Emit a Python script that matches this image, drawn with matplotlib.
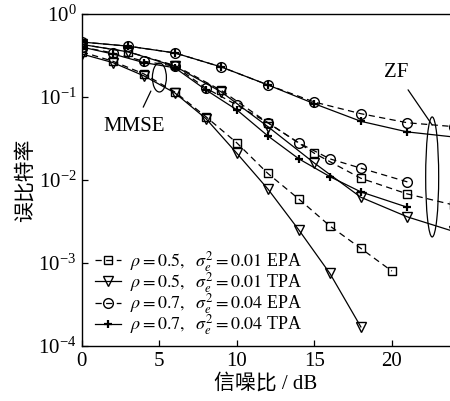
import matplotlib
matplotlib.use("Agg")
from matplotlib import pyplot as plt
from matplotlib.patches import Ellipse
from matplotlib.transforms import ScaledTranslation

plt.rcParams["font.family"] = ["Liberation Serif", "Noto Sans CJK SC"]
plt.rcParams["mathtext.fontset"] = "stix"
plt.rcParams["font.size"] = 13

# SNR grids
snr_mmse_05 = [0, 2, 4, 6, 8, 10, 12, 14, 16, 18, 20]
snr_mmse_05_tpa = [0, 2, 4, 6, 8, 10, 12, 14, 16, 18]
snr_mmse_07 = [0, 2, 4, 6, 8, 10, 12, 14, 16, 18, 21]
snr_zf = [0, 3, 6, 9, 12, 15, 18, 21, 24]

# MMSE curves
mmse_05_epa = [0.35, 0.27, 0.19, 0.115, 0.058, 0.028, 0.012, 0.0059, 0.0028, 0.0015, 0.0008]
mmse_05_tpa = [0.33, 0.26, 0.18, 0.112, 0.055, 0.021, 0.0078, 0.0025, 0.00075, 0.00017]
mmse_07_epa = [0.40, 0.34, 0.27, 0.235, 0.128, 0.08, 0.049, 0.028, 0.018, 0.0139, 0.0095]
mmse_07_tpa = [0.40, 0.33, 0.26, 0.225, 0.122, 0.07, 0.034, 0.018, 0.011, 0.0072, 0.0047]

# ZF curves
zf_05_epa = [0.43, 0.35, 0.24, 0.12, 0.049, 0.021, 0.0105, 0.0068, 0.0050]
zf_05_tpa = [0.43, 0.35, 0.235, 0.115, 0.044, 0.016, 0.0062, 0.0036, 0.0024]
zf_07_epa = [0.46, 0.41, 0.34, 0.23, 0.14, 0.087, 0.063, 0.049, 0.044]
zf_07_tpa = [0.46, 0.41, 0.34, 0.23, 0.14, 0.083, 0.051, 0.038, 0.033]

labels = [r"$\rho=0.5,\ \ \sigma_e^2=0.01$ EPA",
          r"$\rho=0.5,\ \ \sigma_e^2=0.01$ TPA",
          r"$\rho=0.7,\ \ \sigma_e^2=0.04$ EPA",
          r"$\rho=0.7,\ \ \sigma_e^2=0.04$ TPA"]

fig = plt.figure(figsize=(4.5, 4.01), dpi=100)
ax = fig.add_axes([0.182, 0.137, 0.818, 0.828])

dash = (0, (5, 3.5))
sq = dict(marker="s", ms=6, ls=dash)
tri = dict(marker="v", ms=7, ls="-")
circ = dict(marker="o", ms=7, ls=dash)
plus = dict(marker="+", ms=6, mew=1.6, ls="-")
common = dict(color="black", lw=0.9, mfc="none", mec="black")

ax.plot(snr_mmse_05, mmse_05_epa, label=labels[0], **sq, **common)
ax.plot(snr_mmse_05_tpa, mmse_05_tpa, label=labels[1], **tri, **common)
ax.plot(snr_mmse_07, mmse_07_epa, label=labels[2], **circ, **common)
ax.plot(snr_mmse_07, mmse_07_tpa, label=labels[3], **plus, **common)
ax.plot(snr_zf, zf_05_epa, **sq, **common)
ax.plot(snr_zf, zf_05_tpa, **tri, **common)
ax.plot(snr_zf, zf_07_epa, **circ, **common)
ax.plot(snr_zf, zf_07_tpa, **plus, **common)

ax.set_yscale("log")
ax.set_xlim(0, 23.75)
ax.set_ylim(1e-4, 1)
ax.set_xticks([0, 5, 10, 15, 20])
ax.set_yticks([1e-4, 1e-3, 1e-2, 1e-1, 1])
ax.minorticks_off()
ax.tick_params(direction="in", length=4, width=0.9, labelsize=15, pad=4)
ax.spines["right"].set_visible(False)
for s in ["left", "bottom", "top"]:
    ax.spines[s].set_linewidth(1.0)

ax.set_xlabel("信噪比 / dB", fontsize=15, labelpad=2)
ax.set_ylabel("误比特率", fontsize=15, labelpad=2)

# ellipses marking curve groups (size in inches, centre in data units)
def group_ellipse(x, y, w, h):
    tr = fig.dpi_scale_trans + ScaledTranslation(x, y, ax.transData)
    ax.add_patch(Ellipse((0, 0), w, h, transform=tr, fill=False, ec="black", lw=0.9))

group_ellipse(5.0, 0.172, 0.14, 0.29)
group_ellipse(22.6, 0.0109, 0.13, 1.20)

ax.annotate("MMSE", xy=(4.45, 0.118), xytext=(3.35, 0.0436), ha="center", va="center",
            fontsize=15, arrowprops=dict(arrowstyle="-", lw=0.9, shrinkA=6, shrinkB=0))
ax.annotate("ZF", xy=(22.6, 0.046), xytext=(20.3, 0.195), ha="center", va="center",
            fontsize=15, arrowprops=dict(arrowstyle="-", lw=0.9, shrinkA=4, shrinkB=0))

ax.legend(loc="lower left", bbox_to_anchor=(0.0, -0.012), frameon=False, fontsize=13,
          handlelength=1.45, handletextpad=0.5, labelspacing=-0.2, borderaxespad=0.3)

plt.savefig("out.png", dpi=100)
